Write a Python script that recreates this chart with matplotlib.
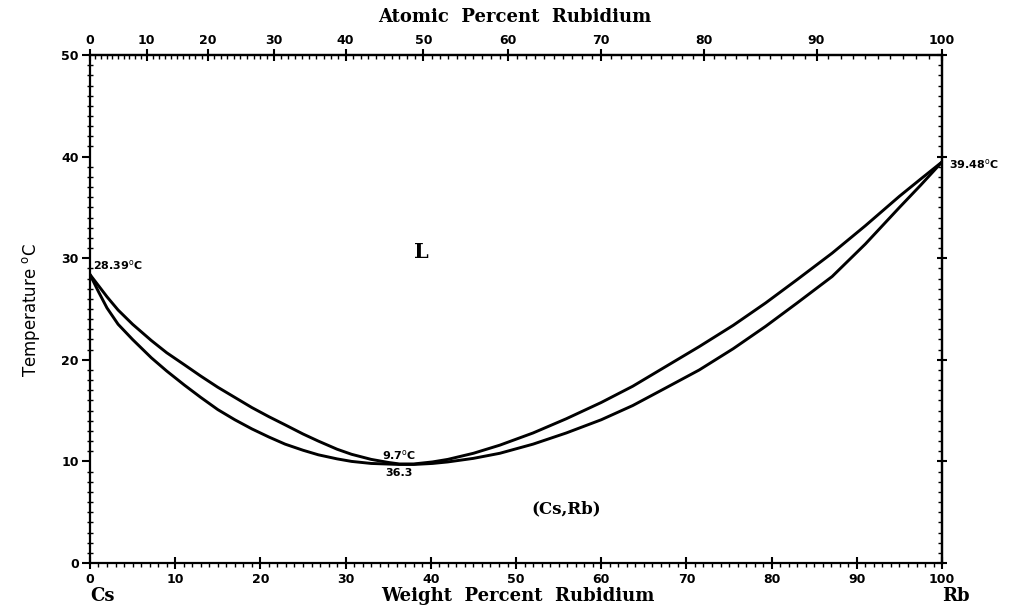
import numpy as np
import matplotlib
matplotlib.use("Agg")
import matplotlib.pyplot as plt
from matplotlib.ticker import MultipleLocator, FixedLocator
from matplotlib.font_manager import FontProperties

# Data (liquidus = upper curve, solidus = lower curve)
liq_wt = [0, 1, 2, 3.3, 5, 7.2, 9, 11.1, 13, 15, 17, 19, 21, 22.9, 25, 26.8, 29, 30.7, 33, 35,
          36.3, 38, 40.2, 42, 45, 48.1, 52, 55.9, 60, 63.7, 67.5, 71.5, 75.5, 79.3, 83, 87.1,
          91, 95, 97.5, 100]
liq_T = [28.39, 27.3, 26.2, 24.9, 23.5, 21.9, 20.7, 19.5, 18.4, 17.3, 16.3, 15.3, 14.4, 13.6,
         12.7, 12.0, 11.2, 10.7, 10.2, 9.9, 9.75, 9.75, 9.95, 10.2, 10.8, 11.6, 12.8, 14.2,
         15.8, 17.4, 19.3, 21.3, 23.4, 25.6, 27.9, 30.5, 33.2, 36.1, 37.8, 39.48]
sol_wt = [0, 1, 2, 3.3, 5, 7.2, 9, 11.1, 13, 15, 17, 19, 21, 22.9, 25, 26.8, 29, 30.7, 33,
          36.3, 38, 40.2, 42, 45, 48.1, 52, 55.9, 60, 63.7, 67.5, 71.5, 75.5, 79.3, 83, 87.1,
          91, 95, 97.5, 100]
sol_T = [28.39, 26.7, 25.1, 23.5, 22.0, 20.2, 18.9, 17.5, 16.3, 15.1, 14.1, 13.2, 12.4, 11.7,
         11.1, 10.65, 10.25, 10.0, 9.8, 9.7, 9.7, 9.8, 9.95, 10.3, 10.8, 11.7, 12.8, 14.1,
         15.5, 17.2, 19.0, 21.1, 23.3, 25.6, 28.2, 31.4, 35.0, 37.2, 39.48]
wt_ticks = list(range(0, 101, 10))
at_ticks = list(range(0, 101, 10))
T_ticks = list(range(0, 51, 10))

M_CS = 132.905
M_RB = 85.468


def wt2at(w):
    w = np.clip(np.asarray(w, dtype=float), 1e-9, 100 - 1e-9)
    return (w / M_RB) / (w / M_RB + (100 - w) / M_CS) * 100


def at2wt(a):
    a = np.clip(np.asarray(a, dtype=float), 1e-9, 100 - 1e-9)
    return (a * M_RB) / (a * M_RB + (100 - a) * M_CS) * 100


fig = plt.figure(figsize=(10.19, 6.08), dpi=100)
ax = fig.add_axes([0.0883, 0.074, 0.8362, 0.8355])

ax.plot(liq_wt, liq_T, color="black", lw=2.1, solid_joinstyle="round")
ax.plot(sol_wt, sol_T, color="black", lw=2.1, solid_joinstyle="round")

ax.set_xlim(0, 100)
ax.set_ylim(0, 50)
for s in ax.spines.values():
    s.set_linewidth(1.6)

tickfp = FontProperties(family="DejaVu Sans", weight="bold", size=9)
ax.xaxis.set_major_locator(FixedLocator(wt_ticks))
ax.xaxis.set_minor_locator(MultipleLocator(1))
ax.yaxis.set_major_locator(FixedLocator(T_ticks))
ax.yaxis.set_minor_locator(MultipleLocator(1))
ax.tick_params(axis="x", which="major", direction="inout", length=8, width=1.5, pad=3)
ax.tick_params(axis="x", which="minor", direction="out", length=3, width=1.0)
ax.tick_params(axis="y", which="major", direction="out", length=6, width=1.5, pad=2)
ax.tick_params(axis="y", which="minor", direction="inout", length=5, width=1.0)
for lab in ax.get_xticklabels() + ax.get_yticklabels():
    lab.set_fontproperties(tickfp)

# top axis: atomic percent
top = ax.secondary_xaxis("top", functions=(wt2at, at2wt))
top.xaxis.set_major_locator(FixedLocator(at_ticks))
top.xaxis.set_minor_locator(MultipleLocator(1))
top.tick_params(which="major", direction="inout", length=8, width=1.5, pad=2)
top.tick_params(which="minor", direction="in", length=3, width=1.0)
for lab in top.get_xticklabels():
    lab.set_fontproperties(tickfp)
top.spines["top"].set_linewidth(1.6)

# right axis ticks
right = ax.secondary_yaxis("right")
right.yaxis.set_major_locator(FixedLocator(T_ticks))
right.yaxis.set_minor_locator(MultipleLocator(1))
right.tick_params(which="major", direction="inout", length=7, width=1.5, labelright=False)
right.tick_params(which="minor", direction="in", length=3, width=1.0)
right.spines["right"].set_linewidth(1.6)

serif = dict(family="DejaVu Serif", weight="bold")
fig.text(0.505, 0.972, "Atomic  Percent  Rubidium", ha="center", va="center", fontsize=13, **serif)
fig.text(0.508, 0.019, "Weight  Percent  Rubidium", ha="center", va="center", fontsize=13, **serif)
fig.text(0.0883, 0.019, "Cs", ha="left", va="center", fontsize=13, **serif)
fig.text(0.9245, 0.019, "Rb", ha="left", va="center", fontsize=13, **serif)
fig.text(0.030, 0.49, "Temperature $^{\\rm o}$C", rotation=90, ha="center", va="center",
         fontsize=12, family="DejaVu Sans")

ann = dict(fontsize=8, weight="bold", family="DejaVu Sans", color="black")
ax.text(0.3, 28.6, "28.39$^{\\rm o}$C", ha="left", va="bottom", **ann)
ax.text(100.8, 39.3, "39.48$^{\\rm o}$C", ha="left", va="center", clip_on=False, **ann)
ax.text(36.3, 9.95, "9.7$^{\\rm o}$C", ha="center", va="bottom", **ann)
ax.text(36.3, 9.4, "36.3", ha="center", va="top", **ann)
ax.text(38.9, 30.6, "L", ha="center", va="center", fontsize=15, **serif)
ax.text(55.9, 5.3, "(Cs,Rb)", ha="center", va="center", fontsize=12, **serif)

fig.savefig("out.png", dpi=100)
